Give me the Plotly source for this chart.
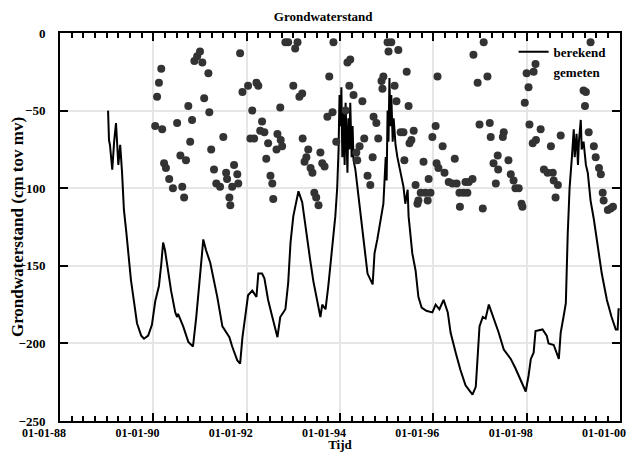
import pandas as pd
import plotly.graph_objects as go

# berekende grondwaterstand (decimaal jaar, cm t.o.v. maaiveld)
ber_jaar = [1989.03, 1989.05, 1989.07, 1989.12, 1989.16, 1989.20, 1989.25, 1989.29, 1989.33, 1989.37,
            1989.42, 1989.48, 1989.52, 1989.59, 1989.65, 1989.74, 1989.80, 1989.89, 1989.97, 1990.04,
            1990.12, 1990.17, 1990.21, 1990.25, 1990.30, 1990.38, 1990.47, 1990.51, 1990.53, 1990.57,
            1990.64, 1990.75, 1990.85, 1990.92, 1991.00, 1991.05, 1991.07, 1991.13, 1991.22, 1991.37,
            1991.48, 1991.63, 1991.69, 1991.80, 1991.86, 1991.91, 1991.99, 1992.03, 1992.12, 1992.21,
            1992.25, 1992.33, 1992.38, 1992.46, 1992.55, 1992.66, 1992.72, 1992.83, 1992.89, 1992.94,
            1993.00, 1993.11, 1993.19, 1993.26, 1993.36, 1993.43, 1993.51, 1993.58, 1993.62, 1993.69,
            1993.75, 1993.82, 1993.86, 1993.90, 1993.94, 1993.97, 1993.99, 1994.01, 1994.03, 1994.05,
            1994.07, 1994.10, 1994.12, 1994.14, 1994.16, 1994.18, 1994.20, 1994.22, 1994.25, 1994.27,
            1994.29, 1994.33, 1994.40, 1994.50, 1994.59, 1994.70, 1994.74, 1994.80, 1994.87, 1994.93,
            1994.98, 1995.00, 1995.02, 1995.04, 1995.06, 1995.08, 1995.10, 1995.13, 1995.15, 1995.19,
            1995.23, 1995.30, 1995.36, 1995.40, 1995.45, 1995.47, 1995.49, 1995.55, 1995.62, 1995.68,
            1995.75, 1995.85, 1995.98, 1996.05, 1996.13, 1996.22, 1996.31, 1996.37, 1996.48, 1996.58,
            1996.69, 1996.80, 1996.84, 1996.91, 1996.95, 1996.99, 1997.06, 1997.12, 1997.19, 1997.29,
            1997.40, 1997.51, 1997.66, 1997.76, 1997.87, 1997.98, 1998.04, 1998.09, 1998.15, 1998.19,
            1998.34, 1998.43, 1998.47, 1998.58, 1998.69, 1998.73, 1998.79, 1998.84, 1998.88, 1998.92,
            1998.97, 1999.01, 1999.03, 1999.07, 1999.10, 1999.12, 1999.16, 1999.18, 1999.22, 1999.27,
            1999.31, 1999.37, 1999.44, 1999.52, 1999.61, 1999.72, 1999.82, 1999.91, 1999.95, 1999.97,
            1999.995]
ber_cm = [-50, -69, -72, -88, -70, -58, -85, -72, -90, -114,
          -128, -146, -159, -174, -187, -195, -197, -195, -188, -173,
          -163, -149, -135, -140, -151, -166, -180, -183, -181, -184,
          -189, -199, -202, -183, -159, -140, -133, -140, -148, -170,
          -189, -196, -202, -211, -213, -196, -178, -169, -166, -170,
          -155, -155, -158, -172, -183, -196, -183, -178, -161, -135,
          -118, -102, -109, -125, -146, -160, -173, -183, -175, -178,
          -163, -142, -133, -118, -100, -75, -40, -60, -35, -80,
          -50, -85, -45, -70, -90, -55, -75, -45, -80, -60,
          -82, -88, -105, -133, -155, -162, -142, -133, -120, -110,
          -80, -95, -50, -70, -29, -60, -40, -70, -55, -72,
          -80, -90, -99, -110, -101, -118, -125, -142, -153, -170,
          -177, -179, -180, -175, -178, -172, -180, -193, -206, -217,
          -227, -231, -233, -228, -205, -189, -183, -184, -175, -183,
          -193, -204, -210, -216, -224, -231, -221, -210, -206, -192,
          -191, -195, -200, -201, -210, -193, -183, -174, -130, -100,
          -80, -62, -80, -65, -85, -70, -56, -75, -70, -85,
          -90, -108, -120, -138, -155, -172, -183, -191, -191, -178,
          -178]

# gemeten grondwaterstand
gem_jaar = [1990.04, 1990.08, 1990.12, 1990.17, 1990.19, 1990.23, 1990.27, 1990.34, 1990.42, 1990.51,
            1990.58, 1990.62, 1990.66, 1990.70, 1990.75, 1990.79, 1990.83, 1990.88, 1990.94, 1991.00,
            1991.05, 1991.09, 1991.18, 1991.20, 1991.24, 1991.30, 1991.35, 1991.43, 1991.50, 1991.56,
            1991.58, 1991.63, 1991.65, 1991.69, 1991.73, 1991.80, 1991.82, 1991.86, 1991.91, 1992.03,
            1992.08, 1992.12, 1992.16, 1992.21, 1992.25, 1992.29, 1992.33, 1992.38, 1992.42, 1992.46,
            1992.51, 1992.55, 1992.57, 1992.64, 1992.66, 1992.72, 1992.73, 1992.76, 1992.83, 1992.89,
            1993.00, 1993.04, 1993.09, 1993.13, 1993.19, 1993.20, 1993.24, 1993.28, 1993.32, 1993.37,
            1993.41, 1993.45, 1993.49, 1993.54, 1993.58, 1993.62, 1993.67, 1993.73, 1993.77, 1993.84,
            1993.86, 1993.92, 1994.12, 1994.16, 1994.20, 1994.22, 1994.29, 1994.35, 1994.37, 1994.42,
            1994.48, 1994.52, 1994.59, 1994.65, 1994.70, 1994.72, 1994.78, 1994.82, 1994.89, 1994.91,
            1994.93, 1995.02, 1995.04, 1995.10, 1995.17, 1995.21, 1995.25, 1995.30, 1995.36, 1995.38,
            1995.43, 1995.47, 1995.49, 1995.53, 1995.58, 1995.62, 1995.66, 1995.68, 1995.73, 1995.79,
            1995.83, 1995.88, 1995.90, 1995.94, 1995.98, 1996.05, 1996.07, 1996.09, 1996.11, 1996.20,
            1996.24, 1996.33, 1996.41, 1996.46, 1996.50, 1996.56, 1996.57, 1996.65, 1996.69, 1996.73,
            1996.76, 1996.84, 1996.86, 1996.95, 1996.99, 1997.06, 1997.08, 1997.16, 1997.21, 1997.23,
            1997.29, 1997.34, 1997.38, 1997.39, 1997.49, 1997.51, 1997.61, 1997.66, 1997.72, 1997.76,
            1997.83, 1997.89, 1997.91, 1997.96, 1998.00, 1998.04, 1998.06, 1998.13, 1998.19, 1998.20,
            1998.30, 1998.37, 1998.45, 1998.52, 1998.56, 1998.58, 1998.62, 1998.67, 1998.73, 1999.22,
            1999.25, 1999.27, 1999.33, 1999.37, 1999.44, 1999.48, 1999.55, 1999.59, 1999.63, 1999.65,
            1999.74, 1999.80, 1999.85]
gem_cm = [-60, -41, -32, -23, -62, -84, -87, -94, -100, -58,
          -79, -99, -106, -82, -47, -70, -56, -18, -15, -12,
          -19, -42, -26, -51, -75, -88, -97, -99, -67, -90,
          -94, -106, -111, -99, -85, -91, -97, -13, -38, -34,
          -68, -50, -68, -32, -34, -63, -57, -64, -81, -71,
          -92, -97, -107, -75, -65, -48, -69, -73, -6, -6,
          -34, -10, -6, -41, -39, -68, -83, -80, -75, -87,
          -90, -103, -106, -111, -77, -84, -86, -54, -28, -51,
          -6, -70, -50, -19, -34, -17, -40, -77, -82, -73,
          -44, -68, -92, -98, -80, -54, -58, -68, -31, -36,
          -28, -6, -12, -6, -34, -44, -11, -64, -64, -82,
          -25, -47, -71, -69, -63, -98, -110, -108, -103, -83,
          -103, -108, -94, -103, -67, -60, -84, -28, -87, -73,
          -90, -96, -97, -81, -97, -103, -112, -103, -96, -103,
          -96, -94, -14, -32, -59, -113, -6, -28, -58, -67,
          -84, -97, -79, -88, -67, -64, -82, -91, -95, -100,
          -100, -110, -112, -45, -26, -35, -59, -71, -20, -69,
          -62, -88, -90, -73, -90, -95, -106, -98, -66, -37,
          -47, -38, -64, -6, -73, -80, -87, -91, -103, -108,
          -114, -113, -112]

# tijd-as
tick_datums = ["1988-01-01", "1990-01-01", "1992-01-01", "1994-01-01",
               "1996-01-01", "1998-01-01", "2000-01-01"]
tick_labels = ["01-01-88", "01-01-90", "01-01-92", "01-01-94",
               "01-01-96", "01-01-98", "01-01-00"]


def naar_datum(jaren):
    s = pd.Series(jaren) - 1988
    return pd.Timestamp("1988-01-01") + pd.to_timedelta(s * 365.25, unit="D")


fig = go.Figure()
fig.add_trace(go.Scatter(x=naar_datum(ber_jaar), y=ber_cm, mode="lines", name="berekend",
                         line=dict(color="black", width=2)))
fig.add_trace(go.Scatter(x=naar_datum(gem_jaar), y=gem_cm, mode="markers", name="gemeten",
                         marker=dict(color="#333333", size=8)))

serif = "Liberation Serif"

# pagina heeft 8px body-marge rondom: figuur zo klein dat er niets overloopt
fig.update_layout(
    width=618, height=444,
    margin=dict(l=52, r=6, t=25, b=31),
    paper_bgcolor="white", plot_bgcolor="white",
    font=dict(family=serif, size=13, color="black", weight="bold"),
    title=dict(text="Grondwaterstand", xref="container", x=0.51, xanchor="center",
               yref="container", y=0.982, yanchor="middle",
               font=dict(family=serif, size=13, weight="bold")),
    showlegend=True,
    legend=dict(x=0.985, y=0.99, xanchor="right", yanchor="top", bgcolor="rgba(0,0,0,0)",
                font=dict(family=serif, size=13, weight="bold"),
                itemwidth=30, tracegroupgap=0),
)
fig.update_xaxes(
    type="date", range=["1988-01-01", "2000-01-01 06:00"],
    tickmode="array", tickvals=tick_datums, ticktext=tick_labels,
    tickfont=dict(family=serif, size=12, weight="bold"),
    ticks="inside", ticklen=8, tickwidth=2, tickcolor="black",
    ticklabelshift=-16, ticklabelstandoff=0, ticklabeloverflow="allow",
    showline=True, linecolor="black", linewidth=2, mirror="allticks",
    showgrid=True, gridcolor="#e6e6e6", gridwidth=2, zeroline=False,
    minor=dict(tick0="1988-01-01", dtick="M3", ticks="inside", ticklen=5, tickwidth=2,
               tickcolor="black", showgrid=False),
    automargin=False,
    title=dict(text="Tijd", standoff=3, font=dict(family=serif, size=13, weight="bold")),
)
fig.update_yaxes(
    range=[-250, 0], tick0=0, dtick=50,
    ticks="inside", ticklen=8, tickwidth=2, tickcolor="black",
    ticklabelstandoff=10,
    showline=True, linecolor="black", linewidth=2, mirror="allticks",
    showgrid=True, gridcolor="#e6e6e6", gridwidth=2, zeroline=False,
    automargin=False,
    title=dict(text="Grondwaterstand (cm tov mv)", standoff=1,
               font=dict(family=serif, size=17, weight="bold")),
)

fig.write_html("out.html")
